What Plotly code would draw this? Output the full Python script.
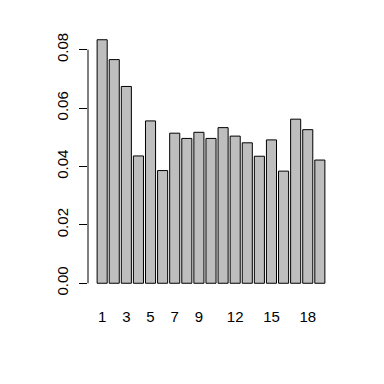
import plotly.graph_objects as go

categories = [str(i) for i in range(1, 20)]
values = [0.0834, 0.0766, 0.0674, 0.0436, 0.0556, 0.0386, 0.0514, 0.0496, 0.0517,
          0.0496, 0.0533, 0.0504, 0.0481, 0.0435, 0.0491, 0.0384, 0.0562, 0.0526, 0.0422]
shown_labels = ["1", "3", "5", "7", "9", "12", "15", "18"]
y_ticks = [0.00, 0.02, 0.04, 0.06, 0.08]
y_tick_text = ["0.00", "0.02", "0.04", "0.06", "0.08"]

# R barplot geometry: width 1, space 0.2
centers = [1.2 * (i + 1) - 0.5 for i in range(len(categories))]
x_lo, x_hi = 0.2, 1.2 * len(categories)
pad = 0.04 * (x_hi - x_lo)
ymax = max(values)

fig = go.Figure()
fig.add_trace(go.Bar(
    x=centers, y=values, width=1.0,
    marker=dict(color="#BEBEBE", line=dict(color="black", width=1)),
    hoverinfo="skip",
))

tick_pos = [centers[categories.index(l)] for l in shown_labels]

fig.update_layout(
    width=384, height=384,
    margin=dict(l=88, r=50, t=30, b=91),
    paper_bgcolor="white", plot_bgcolor="white",
    showlegend=False,
    font=dict(family="Liberation Sans, Arial, sans-serif", size=15, color="black"),
    xaxis=dict(range=[x_lo - pad, x_hi + pad], tickvals=tick_pos, ticktext=shown_labels,
               ticks="", showgrid=False, zeroline=False, showline=False,
               ticklabelstandoff=13),
    yaxis=dict(range=[-0.04 * ymax, ymax * 1.04], tickvals=y_ticks, ticktext=y_tick_text,
               ticks="outside", ticklen=8, tickwidth=1, tickcolor="black",
               tickangle=-90, showgrid=False, zeroline=False, showline=False,
               ticklabelstandoff=5),
)
fig.add_shape(type="line", xref="paper", x0=0, x1=0, yref="y", y0=y_ticks[0], y1=y_ticks[-1],
              line=dict(color="black", width=1))

fig.write_html("out.html")
